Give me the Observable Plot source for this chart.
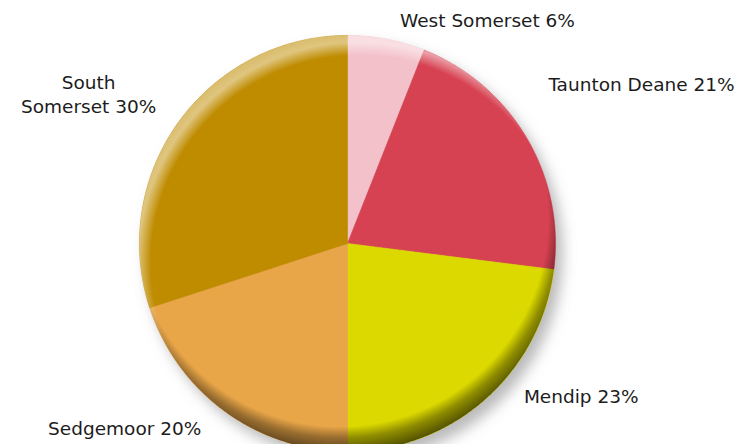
<!DOCTYPE html>
<html><head><meta charset="utf-8">
<script src="https://cdn.jsdelivr.net/npm/d3@7"></script>
<script src="https://cdn.jsdelivr.net/npm/@observablehq/plot@0.6"></script>
<style>body{margin:0;background:#fff} #chart{width:737px;height:444px}</style>
</head><body><div id="chart"></div>
<script>
// ---- data ----
const districts = ["West Somerset", "Taunton Deane", "Mendip", "Sedgemoor", "South Somerset"];
const shares = [6, 21, 23, 20, 30];
const labels = ["West Somerset 6%", "Taunton Deane 21%", "Mendip 23%", "Sedgemoor 20%", "South\nSomerset 30%"];
const colors = ["#f3c1c9", "#d74252", "#dcd900", "#e9a648", "#bf8c00"];

// ---- layout ----
const W = 737, H = 444, CX = 347, CY = 243, R = 208;
const labelAngle = [32, 61.4, 123, 230.4, 300.2];   // degrees clockwise from top
const labelDist = [1.27, 1.61, 1.34, 1.39, 1.44];   // in pie radii

const arcs = d3.pie().sort(null).value(d => d)(shares);
function slicePts(a, name) {
  const n = Math.max(4, Math.ceil((a.endAngle - a.startAngle) / 0.005));
  const pts = [{k: name, x: 0, y: 0}];
  for (let j = 0; j <= n; j++) {
    const t = a.startAngle + (a.endAngle - a.startAngle) * j / n;
    pts.push({k: name, x: Math.sin(t), y: Math.cos(t)});
  }
  pts.push({k: name, x: 0, y: 0});
  return pts;
}
const circle = d3.range(0, 721).map(j => {
  const t = j / 720 * 2 * Math.PI;
  return {x: Math.sin(t), y: Math.cos(t)};
});
const labelRows = labels.map((t, i) => {
  const a = labelAngle[i] * Math.PI / 180;
  return {t, x: labelDist[i] * Math.sin(a), y: labelDist[i] * Math.cos(a)};
});
const shadowPts = circle.map(p => ({x: p.x + 7 / R, y: p.y - 9 / R}));

const marks = [
  Plot.line(shadowPts, {x: "x", y: "y", fill: "#808081", fillOpacity: 0.55, stroke: "none"}),
  ...arcs.map((a, i) => Plot.line(slicePts(a, districts[i]), {x: "x", y: "y", fill: colors[i], stroke: colors[i], strokeWidth: 0.6, curve: "linear"})),
  Plot.line(circle, {x: "x", y: "y", fill: "url(#rimLight)", stroke: "none"}),
  Plot.line(circle, {x: "x", y: "y", fill: "url(#rimDark)", stroke: "none"}),
  Plot.text(labelRows, {x: "x", y: "y", text: "t", lineAnchor: "middle", textAnchor: "middle", fontSize: 18.5, fill: "#1c1c1c", lineHeight: 1.3})
];

const chart = Plot.plot({
  width: W, height: H,
  marginTop: 0, marginRight: 0, marginBottom: 0, marginLeft: 0,
  style: {fontFamily: "'DejaVu Sans', sans-serif", background: "#fff", overflow: "visible"},
  x: {domain: [-CX / R, (W - CX) / R], range: [0, W], axis: null},
  y: {domain: [-(H - CY) / R, CY / R], range: [H, 0], axis: null},
  marks
});

const svg = d3.select(chart.tagName.toLowerCase() === "svg" ? chart : chart.querySelector("svg"));
const defs = svg.insert("defs", ":first-child");
const f = defs.append("filter").attr("id", "blur").attr("x", "-20%").attr("y", "-20%").attr("width", "140%").attr("height", "140%");
f.append("feGaussianBlur").attr("stdDeviation", 7);
const gd = defs.append("radialGradient").attr("id", "rimDark").attr("cx", 0.482).attr("cy", 0.44).attr("r", 0.57);
gd.append("stop").attr("offset", 0.877).attr("stop-color", "#000").attr("stop-opacity", 0);
gd.append("stop").attr("offset", 0.925).attr("stop-color", "#000").attr("stop-opacity", 0.35);
gd.append("stop").attr("offset", 1).attr("stop-color", "#000").attr("stop-opacity", 0.68);
const gl = defs.append("radialGradient").attr("id", "rimLight").attr("cx", 0.5275).attr("cy", 0.5476).attr("r", 0.56);
gl.append("stop").attr("offset", 0.893).attr("stop-color", "#fff").attr("stop-opacity", 0);
gl.append("stop").attr("offset", 0.95).attr("stop-color", "#fff").attr("stop-opacity", 0.5);
gl.append("stop").attr("offset", 1).attr("stop-color", "#fff").attr("stop-opacity", 0.4);
svg.selectAll("[fill='#808081']").attr("filter", "url(#blur)");

document.getElementById("chart").append(chart);
</script>
</body></html>
